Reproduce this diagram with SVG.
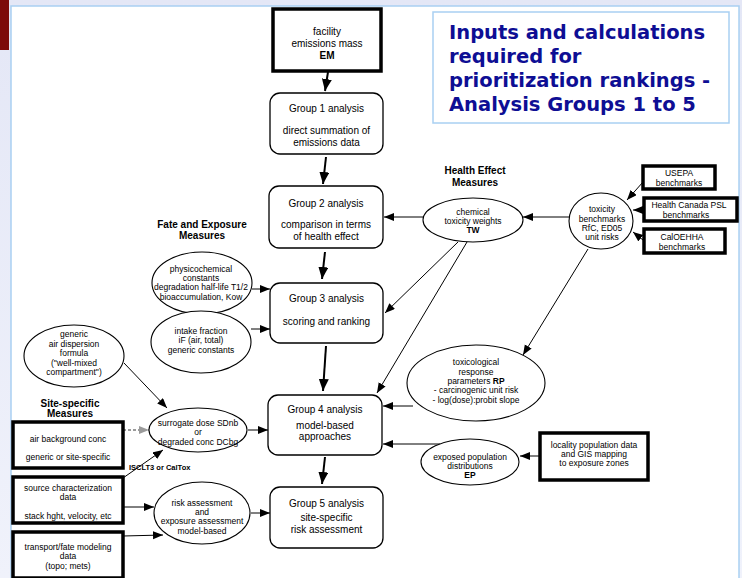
<svg xmlns="http://www.w3.org/2000/svg" width="742" height="578" viewBox="0 0 742 578">
<defs>
<linearGradient id="bg" x1="0" y1="0" x2="0" y2="1">
<stop offset="0" stop-color="#e4e7f6"/>
<stop offset="1" stop-color="#f0f2fb"/>
</linearGradient>
<marker id="a" markerUnits="userSpaceOnUse" markerWidth="11" markerHeight="9" refX="10" refY="4" orient="auto">
<path d="M0,0 L10,4 L0,8 z" fill="#000"/>
</marker>
<marker id="b" markerUnits="userSpaceOnUse" markerWidth="13" markerHeight="11" refX="12" refY="5" orient="auto">
<path d="M0,0 L12,5 L0,10 z" fill="#000"/>
</marker>
<marker id="g" markerUnits="userSpaceOnUse" markerWidth="11" markerHeight="9" refX="10" refY="4" orient="auto">
<path d="M0,0 L10,4 L0,8 z" fill="#9a9a9a"/>
</marker>
</defs>
<style>
text{font-family:"Liberation Sans",Arial,sans-serif;fill:#000;text-anchor:middle}
.t10{font-size:10px}
.t8{font-size:8.5px}
.h{font-size:10px;font-weight:bold}
.b{font-weight:bold}
.rb{fill:#fff;stroke:#000;stroke-width:1.3}
.tb{fill:#fff;stroke:#000;stroke-width:3.5}
.el{fill:#fff;stroke:#000;stroke-width:1.1}
.ln{fill:none;stroke:#000;stroke-width:1}
.thk{fill:none;stroke:#000;stroke-width:2}
.title{font-family:"DejaVu Sans",Verdana,sans-serif;font-size:19.5px;font-weight:bold;fill:#0e0e94;text-anchor:start}
</style>

<rect x="0" y="0" width="742" height="578" fill="url(#bg)"/>
<rect x="0" y="0" width="9" height="50" fill="#7d0a0a"/>
<rect x="11" y="6" width="728" height="580" fill="#fff" stroke="#a9d0f2" stroke-width="1.5"/>

<g id="title">
<rect x="433" y="12" width="296" height="111" fill="#fff" stroke="#a9d0f2" stroke-width="1.5"/>
<text class="title" x="449" y="39">Inputs and calculations</text>
<text class="title" x="449" y="63">required for</text>
<text class="title" x="449" y="87">prioritization rankings -</text>
<text class="title" x="449" y="111">Analysis Groups 1 to 5</text>
</g>

<g id="labels">
<text class="h" x="475" y="173.5">Health Effect</text>
<text class="h" x="475" y="185.5">Measures</text>
<text class="h" x="202" y="227.5">Fate and Exposure</text>
<text class="h" x="202" y="238.5">Measures</text>
<text class="h" x="70" y="406.5">Site-specific</text>
<text class="h" x="70" y="417">Measures</text>
<text class="b" x="129" y="470" style="font-size:7.5px;text-anchor:start">ISCLT3 or CalTox</text>
</g>

<g id="connectors">
<line class="thk" x1="328" y1="72" x2="325" y2="91" marker-end="url(#b)"/>
<line class="thk" x1="326" y1="157" x2="323" y2="184" marker-end="url(#b)"/>
<line class="thk" x1="325" y1="252" x2="322" y2="279" marker-end="url(#b)"/>
<line class="thk" x1="326" y1="346" x2="323" y2="391" marker-end="url(#b)"/>
<line class="thk" x1="325" y1="457" x2="322" y2="484" marker-end="url(#b)"/>
<line class="ln" x1="423" y1="217" x2="384" y2="217" marker-end="url(#a)"/>
<line class="ln" x1="569" y1="217" x2="523" y2="217" marker-end="url(#a)"/>
<line class="ln" x1="643" y1="182" x2="627" y2="200" marker-end="url(#a)"/>
<line class="ln" x1="643" y1="210" x2="633" y2="210" marker-end="url(#a)"/>
<line class="ln" x1="643" y1="240" x2="633" y2="232" marker-end="url(#a)"/>
<line class="ln" x1="458" y1="242" x2="385" y2="313" marker-end="url(#a)"/>
<line class="ln" x1="467" y1="242" x2="377" y2="393" marker-end="url(#a)"/>
<line class="ln" x1="588" y1="249" x2="523" y2="355" marker-end="url(#a)"/>
<line class="ln" x1="413" y1="406" x2="383" y2="406" marker-end="url(#a)"/>
<line class="ln" x1="440" y1="444" x2="383" y2="444" marker-end="url(#a)"/>
<line class="ln" x1="540" y1="456" x2="520" y2="456" marker-end="url(#a)"/>
<line class="ln" x1="252" y1="289" x2="270" y2="289" marker-end="url(#a)"/>
<line class="ln" x1="251" y1="329" x2="270" y2="329" marker-end="url(#a)"/>
<line class="ln" x1="124" y1="363" x2="167" y2="408" stroke-width="0.8" marker-end="url(#a)"/>
<line class="ln" x1="248" y1="430" x2="268" y2="430" marker-end="url(#a)"/>
<line x1="123" y1="430" x2="149" y2="430" stroke="#9a9a9a" stroke-width="2" stroke-dasharray="3,2" marker-end="url(#g)"/>
<line class="ln" x1="123" y1="478" x2="163" y2="450" stroke-width="1.5" marker-end="url(#a)"/>
<line class="ln" x1="123" y1="507" x2="154" y2="507" marker-end="url(#a)"/>
<line class="ln" x1="123" y1="536" x2="163" y2="535" marker-end="url(#a)"/>
<line class="ln" x1="251" y1="513" x2="270" y2="513" marker-end="url(#a)"/>
</g>

<g id="em">
<rect class="tb" x="273" y="9" width="108" height="62"/>
<text class="t10" x="327" y="35">facility</text>
<text class="t10" x="327" y="47">emissions mass</text>
<text class="t10 b" x="327" y="59">EM</text>
</g>

<g id="group1">
<rect class="rb" x="270" y="93" width="113" height="61" rx="10"/>
<text class="t10" x="326.5" y="111.5">Group 1 analysis</text>
<text class="t10" x="326.5" y="133.5">direct summation of</text>
<text class="t10" x="326.5" y="145.5">emissions data</text>
</g>

<g id="group2">
<rect class="rb" x="269" y="186" width="114" height="62" rx="10"/>
<text class="t10" x="326" y="206.5">Group 2 analysis</text>
<text class="t10" x="326" y="227.5">comparison in terms</text>
<text class="t10" x="326" y="239.5">of health effect</text>
</g>

<g id="group3">
<rect class="rb" x="270" y="283" width="113" height="60" rx="10"/>
<text class="t10" x="326.5" y="301.5">Group 3 analysis</text>
<text class="t10" x="326.5" y="324.5">scoring and ranking</text>
</g>

<g id="group4">
<rect class="rb" x="268" y="395" width="114" height="60" rx="10"/>
<text class="t10" x="325" y="412.5">Group 4 analysis</text>
<text class="t10" x="325" y="428.5">model-based</text>
<text class="t10" x="325" y="439.5">approaches</text>
</g>

<g id="group5">
<rect class="rb" x="270" y="487" width="113" height="61" rx="10"/>
<text class="t10" x="326.5" y="506.5">Group 5 analysis</text>
<text class="t10" x="326.5" y="520.5">site-specific</text>
<text class="t10" x="326.5" y="532.5">risk assessment</text>
</g>

<g id="tw">
<ellipse class="el" cx="473" cy="220" rx="50" ry="22"/>
<text class="t8" x="473" y="214.5">chemical</text>
<text class="t8" x="473" y="223.5">toxicity weights</text>
<text class="t8 b" x="473" y="233">TW</text>
</g>

<g id="benchmarks">
<ellipse class="el" cx="601" cy="221" rx="32" ry="28"/>
<text class="t8" x="602" y="212">toxicity</text>
<text class="t8" x="602" y="222">benchmarks</text>
<text class="t8" x="602" y="231">RfC, ED05</text>
<text class="t8" x="602" y="240">unit risks</text>
</g>

<g id="usepa">
<rect class="tb" x="643" y="166" width="72" height="23"/>
<text class="t8" x="679" y="176">USEPA</text>
<text class="t8" x="679" y="185.5">benchmarks</text>
</g>

<g id="healthcanada">
<rect class="tb" x="644" y="198" width="93" height="23"/>
<text class="t8" x="689" y="208">Health Canada PSL</text>
<text class="t8" x="686" y="218">benchmarks</text>
</g>

<g id="caloehha">
<rect class="tb" x="644" y="229" width="81" height="24"/>
<text class="t8" x="682" y="240">CalOEHHA</text>
<text class="t8" x="682" y="250">benchmarks</text>
</g>

<g id="rp">
<ellipse class="el" cx="476" cy="383" rx="69" ry="38"/>
<text class="t8" x="476" y="365">toxicological</text>
<text class="t8" x="476" y="375">response</text>
<text class="t8" x="476" y="384">parameters <tspan class="b">RP</tspan></text>
<text class="t8" x="476" y="393">- carcinogenic unit risk</text>
<text class="t8" x="476" y="403">- log(dose):probit slope</text>
</g>

<g id="ep">
<ellipse class="el" cx="470" cy="462" rx="49" ry="23"/>
<text class="t8" x="470" y="460">exposed population</text>
<text class="t8" x="470" y="469">distributions</text>
<text class="t8 b" x="470" y="478">EP</text>
</g>

<g id="locality">
<rect class="tb" x="540" y="433" width="108" height="47"/>
<text class="t8" x="594" y="448">locality population data</text>
<text class="t8" x="594" y="457">and GIS mapping</text>
<text class="t8" x="594" y="466">to exposure zones</text>
</g>

<g id="physchem">
<ellipse class="el" cx="202" cy="283" rx="50" ry="31"/>
<text class="t8" x="201" y="272">physicochemical</text>
<text class="t8" x="201" y="281">constants</text>
<text class="t8" x="201" y="290">degradation half-life T1/2</text>
<text class="t8" x="201" y="300">bioaccumulation, Kow</text>
</g>

<g id="intake">
<ellipse class="el" cx="201" cy="342" rx="50" ry="31"/>
<text class="t8" x="201" y="334">intake fraction</text>
<text class="t8" x="201" y="343">iF (air, total)</text>
<text class="t8" x="201" y="353">generic constants</text>
</g>

<g id="dispersion">
<ellipse class="el" cx="74" cy="356" rx="50" ry="31"/>
<text class="t8" x="74" y="337">generic</text>
<text class="t8" x="74" y="347">air dispersion</text>
<text class="t8" x="74" y="356">formula</text>
<text class="t8" x="74" y="366">("well-mixed</text>
<text class="t8" x="74" y="375">compartment")</text>
</g>

<g id="airbg">
<rect class="tb" x="13" y="422" width="110" height="46"/>
<text class="t8" x="68" y="442">air background conc</text>
<text class="t8" x="68" y="460">generic or site-specific</text>
</g>

<g id="source">
<rect class="tb" x="13" y="477" width="110" height="46"/>
<text class="t8" x="68" y="491">source characterization</text>
<text class="t8" x="68" y="500">data</text>
<text class="t8" x="68" y="519">stack hght, velocity, etc</text>
</g>

<g id="transport">
<rect class="tb" x="13" y="532" width="110" height="46"/>
<text class="t8" x="68" y="550">transport/fate modeling</text>
<text class="t8" x="68" y="559">data</text>
<text class="t8" x="68" y="569">(topo; mets)</text>
</g>

<g id="surrogate">
<ellipse class="el" cx="198" cy="430" rx="49" ry="22"/>
<text class="t8" x="198" y="426">surrogate dose SDnb</text>
<text class="t8" x="198" y="435">or</text>
<text class="t8" x="198" y="445">degraded conc DCbg</text>
</g>

<g id="risk">
<ellipse class="el" cx="202" cy="513" rx="48" ry="31"/>
<text class="t8" x="202" y="506">risk assessment</text>
<text class="t8" x="202" y="515">and</text>
<text class="t8" x="202" y="524">exposure assessment</text>
<text class="t8" x="202" y="534">model-based</text>
</g>
</svg>
